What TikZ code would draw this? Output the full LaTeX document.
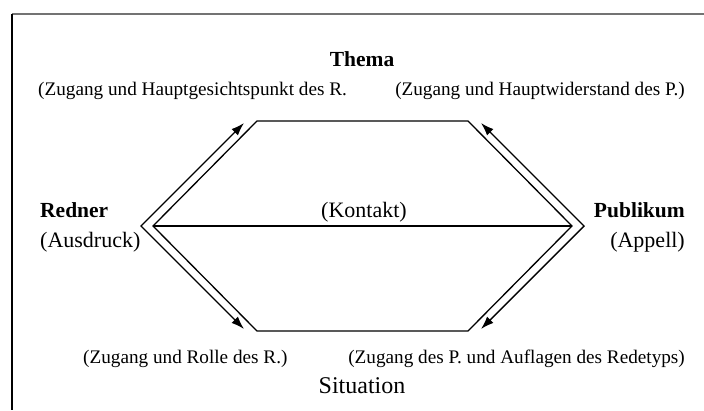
\documentclass[tikz,border=0pt]{standalone}
\usepackage{fontspec}
\setmainfont{Liberation Serif}
\usetikzlibrary{arrows.meta}
\tikzset{
  small/.style={anchor=base, inner sep=0pt, font=\fontsize{19.2}{21}\selectfont},
  big/.style={anchor=base, inner sep=0pt, font=\fontsize{22}{24}\selectfont},
  bigbold/.style={anchor=base, inner sep=0pt, font=\fontsize{21.5}{24}\selectfont\bfseries},
  hexline/.style={line width=1.3pt, line join=miter},
  flow/.style={line width=1.4pt, line join=miter, {Latex[length=13pt,width=9pt]}-{Latex[length=13pt,width=9pt]}},
  frame/.style={line width=1.4pt}
}
\begin{document}
\begin{tikzpicture}[x=1pt,y=-1pt]
\useasboundingbox (0,0) rectangle (704,410);
% frame
\coordinate (fl) at (12,410);
\coordinate (fc) at (12,14);
\coordinate (fr) at (704,14);
\draw[frame, black!55] (fc) -- (fr);
\draw[frame] (fc) -- (fl);
% hexagon corners
\coordinate (tl) at (257,121);
\coordinate (tr) at (468,121);
\coordinate (rv) at (572,226);
\coordinate (br) at (468,331);
\coordinate (bl) at (257,331);
\coordinate (lv) at (153,226);
\draw[hexline] (tl) -- (tr) -- (rv) -- (br) -- (bl) -- (lv) -- cycle;
\draw[line width=1.2pt] (lv) -- (rv);
% outer arrows
\coordinate (la) at (244,123);
\coordinate (lo) at (141,226);
\coordinate (lb) at (244,329);
\coordinate (ra) at (481,123);
\coordinate (ro) at (584,226);
\coordinate (rb) at (481,329);
\draw[flow] (la) -- (lo) -- (lb);
\draw[flow] (ra) -- (ro) -- (rb);
% texts
\node[bigbold] (thema) at (362,66) {Thema};
\node[small, anchor=base west] (zr) at (38,95) {(Zugang und Hauptgesichtspunkt des R.};
\node[small, anchor=base east] (zp) at (685,95) {(Zugang und Hauptwiderstand des P.)};
\node[bigbold, anchor=base west] (redner) at (40,217) {Redner};
\node[big, anchor=base west] (ausdruck) at (40,247) {(Ausdruck)};
\node[bigbold, anchor=base east] (publikum) at (685,217) {Publikum};
\node[big, anchor=base east] (appell) at (685,247) {(Appell)};
\node[big] (kontakt) at (364,217) {(Kontakt)};
\node[small, anchor=base west] (rolle) at (83,363) {(Zugang und Rolle des R.)};
\node[small, anchor=base east] (auflagen) at (685,363) {(Zugang des P. und Auflagen des Redetyps)};
\node[big, font=\fontsize{24}{26}\selectfont] (situation) at (362,393) {Situation};
\end{tikzpicture}
\end{document}
